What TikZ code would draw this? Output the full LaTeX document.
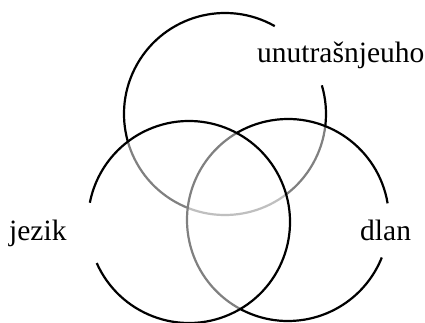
\documentclass[tikz,border=0pt]{standalone}
\usepackage{fontspec}
\setmainfont{Liberation Serif}
\begin{document}
\begin{tikzpicture}[x=1pt,y=1pt,
  ring/.style={line width=2.2pt,draw=black},
  veil/.style={fill=white,fill opacity=0.5},
  lbl/.style={font=\fontsize{29.5}{35}\selectfont,inner sep=0pt}]
\useasboundingbox (0,0) rectangle (425,322);
\coordinate (ct) at (225,208);
\coordinate (cl) at (189,100);
\coordinate (cr) at (288,102);
% top circle
\draw[ring] (ct) ++(60.5:101) arc[start angle=60.5,end angle=376.5,radius=101];
% right circle
\fill[veil] (cr) circle[radius=101];
\draw[ring] (cr) ++(9.5:101) arc[start angle=9.5,end angle=338.2,radius=101];
% left circle
\fill[veil] (cl) circle[radius=101];
\draw[ring] (cl) ++(204:101) arc[start angle=204,end angle=529,radius=101];
% labels
\node[lbl,anchor=base west] (t) at (257,259) {unutrašnjeuho};
\node[lbl,anchor=base west] (l) at (9,82) {jezik};
\node[lbl,anchor=base west] (r) at (360,82) {dlan};
\end{tikzpicture}
\end{document}
